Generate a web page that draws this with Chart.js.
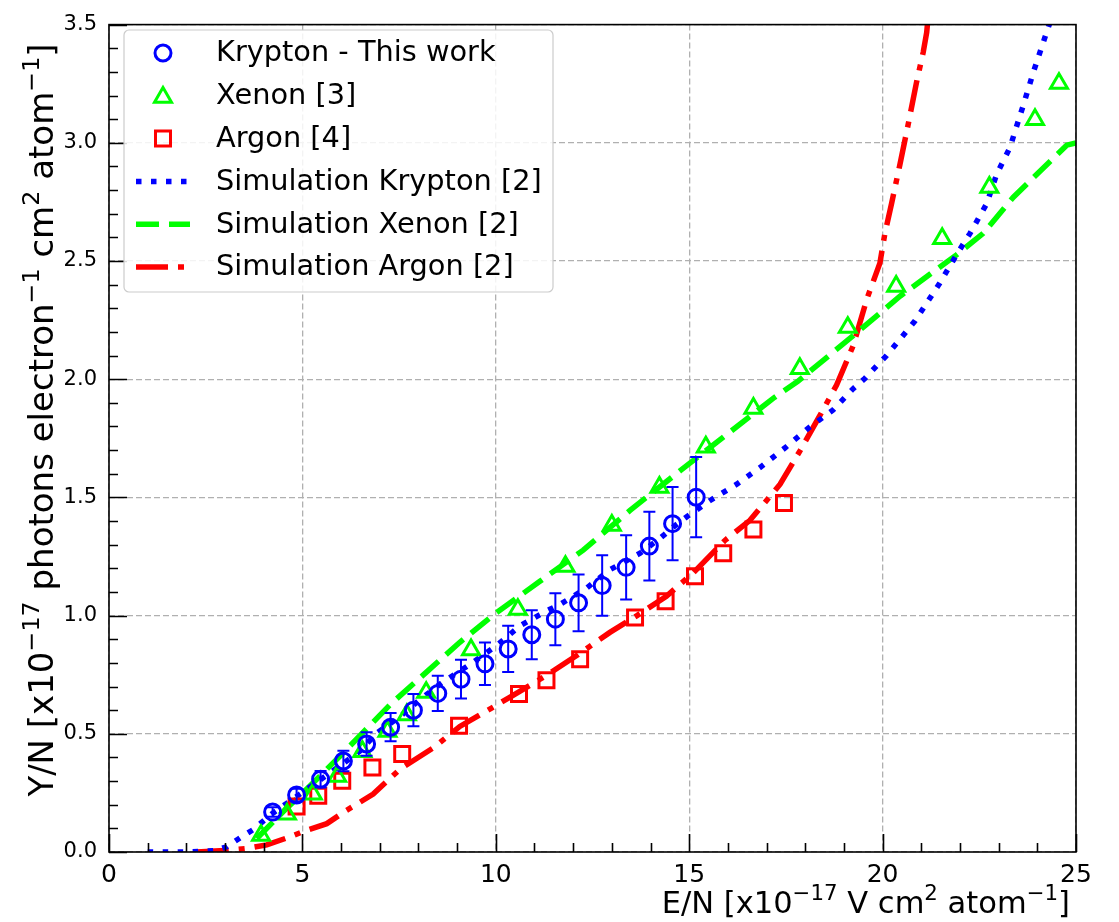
<!DOCTYPE html>
<html>
<head>
<meta charset="utf-8">
<script src="https://cdn.jsdelivr.net/npm/chart.js@4/dist/chart.umd.min.js"></script>
<style>
  html, body { margin: 0; padding: 0; background: #fff; }
</style>
</head>
<body>
<canvas id="chart" width="1119" height="922"></canvas>
<script>
// Krypton - this work (with error bars)
const krE   = [4.23, 4.85, 5.47, 6.06, 6.66, 7.28, 7.87, 8.50, 9.10, 9.72, 10.32, 10.93, 11.54, 12.14, 12.75, 13.37, 13.97, 14.57, 15.18];
const krY   = [0.169, 0.241, 0.308, 0.385, 0.457, 0.528, 0.600, 0.671, 0.731, 0.796, 0.859, 0.919, 0.985, 1.054, 1.127, 1.204, 1.294, 1.389, 1.501];
const krErr = [0.020, 0.027, 0.035, 0.043, 0.050, 0.060, 0.068, 0.075, 0.082, 0.090, 0.098, 0.104, 0.110, 0.120, 0.128, 0.136, 0.145, 0.155, 0.170];

// Xenon [3]
const xeE = [3.93, 4.60, 5.27, 5.90, 6.55, 7.20, 7.70, 8.20, 9.36, 10.57, 11.80, 13.00, 14.23, 15.43, 16.66, 17.86, 19.10, 20.35, 21.54, 22.76, 23.94, 24.56];
const xeY = [0.070, 0.160, 0.245, 0.320, 0.425, 0.510, 0.580, 0.675, 0.855, 1.026, 1.208, 1.382, 1.543, 1.713, 1.877, 2.045, 2.219, 2.393, 2.595, 2.812, 3.098, 3.251];

// Argon [4]
const arE = [4.85, 5.41, 6.03, 6.81, 7.58, 9.05, 10.60, 11.31, 12.18, 13.60, 14.39, 15.15, 15.88, 16.66, 17.45];
const arY = [0.192, 0.238, 0.301, 0.357, 0.415, 0.534, 0.668, 0.727, 0.815, 0.992, 1.061, 1.166, 1.264, 1.364, 1.476];

// Simulation Krypton [2]
const simKrE = [1.0, 2.0, 2.7, 3.04, 3.39, 3.73, 4.2, 4.85, 5.5, 6.1, 6.49, 6.92, 7.5, 8.04, 8.64, 9.33, 10.02, 10.63, 11.31, 11.66, 12.35, 12.95, 13.73, 14.24, 14.59, 14.93, 15.54, 16.23, 16.83, 17.48, 18.08, 18.72, 19.24, 19.54, 20.1, 20.84, 21.48, 21.91, 22.26, 22.69, 22.95, 23.29, 23.64, 23.9, 24.24, 24.35];
const simKrY = [0.0, 0.0, 0.005, 0.022, 0.06, 0.095, 0.16, 0.235, 0.31, 0.38, 0.427, 0.503, 0.57, 0.645, 0.72, 0.793, 0.873, 0.957, 1.02, 1.047, 1.117, 1.194, 1.264, 1.326, 1.375, 1.417, 1.487, 1.556, 1.626, 1.71, 1.793, 1.87, 1.96, 2.003, 2.1, 2.247, 2.407, 2.526, 2.617, 2.742, 2.867, 2.979, 3.16, 3.3, 3.467, 3.52];

// Simulation Xenon [2]
const simXeE = [3.82, 4.5, 5.2, 6.0, 7.26, 8.2, 9.07, 10.02, 11.14, 12.26, 13.47, 14.76, 15.97, 17.17, 17.8, 19.24, 20.45, 21.91, 22.6, 23.38, 24.76, 25.0];
const simXeY = [0.057, 0.17, 0.28, 0.41, 0.622, 0.76, 0.887, 1.013, 1.145, 1.277, 1.445, 1.612, 1.766, 1.919, 1.99, 2.184, 2.351, 2.526, 2.617, 2.77, 2.99, 3.0];

// Simulation Argon [2]
const simArE = [2.27, 3.13, 3.56, 4.08, 4.68, 5.11, 5.63, 6.14, 6.83, 7.52, 8.38, 9.07, 10.37, 11.31, 12.09, 12.95, 13.64, 14.41, 15.1, 15.93, 16.57, 17.0, 17.35, 17.86, 18.34, 18.81, 19.24, 19.59, 19.93, 20.06, 20.23, 20.45, 20.66, 20.88, 21.05, 21.14, 21.17];
const simArY = [0.0, 0.008, 0.015, 0.03, 0.064, 0.092, 0.12, 0.176, 0.245, 0.35, 0.44, 0.531, 0.655, 0.747, 0.831, 0.929, 0.999, 1.082, 1.18, 1.319, 1.403, 1.487, 1.556, 1.696, 1.835, 1.975, 2.142, 2.338, 2.491, 2.617, 2.742, 2.91, 3.077, 3.258, 3.383, 3.467, 3.52];

const xTicks = [0, 5, 10, 15, 20, 25];
const yTicks = [0.0, 0.5, 1.0, 1.5, 2.0, 2.5, 3.0, 3.5];

// axis titles as [text, superscript?] runs
const xTitle = [['E/N [x10', false], ['\u221217', true], [' V cm', false], ['2', true], [' atom', false], ['\u22121', true], [']', false]];
const yTitle = [['Y/N [x10', false], ['\u221217', true], [' photons electron', false], ['\u22121', true], [' cm', false], ['2', true], [' atom', false], ['\u22121', true], [']', false]];

const toPts = (xs, ys) => xs.map((x, i) => ({ x: x, y: ys[i] }));

const BLUE = '#0000ff', GREEN = '#00ff00', RED = '#ff0000';
const FONT = "'DejaVu Sans', sans-serif";

// matplotlib-like dash patterns
const DOT = [5.5, 9.5];
const DASH = [23, 10];
const DASHDOT = [32, 10, 6, 10];

const legendItems = [
  { label: 'Krypton - This work', kind: 'circle', color: BLUE },
  { label: 'Xenon [3]', kind: 'triangle', color: GREEN },
  { label: 'Argon [4]', kind: 'rect', color: RED },
  { label: 'Simulation Krypton [2]', kind: 'line', color: BLUE, dash: DOT },
  { label: 'Simulation Xenon [2]', kind: 'line', color: GREEN, dash: DASH },
  { label: 'Simulation Argon [2]', kind: 'line', color: RED, dash: DASHDOT }
];

const drawMarker = (ctx, kind, x, y, color) => {
  ctx.save();
  ctx.strokeStyle = color;
  ctx.lineWidth = 3;
  ctx.beginPath();
  if (kind === 'circle') {
    ctx.arc(x, y, 8, 0, Math.PI * 2);
  } else if (kind === 'triangle') {
    const r = 9.8;
    ctx.moveTo(x, y - r * 0.85);
    ctx.lineTo(x - r * 0.866, y + r * 0.65);
    ctx.lineTo(x + r * 0.866, y + r * 0.65);
    ctx.closePath();
  } else {
    ctx.rect(x - 7.5, y - 7.5, 15, 15);
  }
  ctx.stroke();
  ctx.restore();
};

// width of a run list, and drawing it from a start x on a baseline
const richWidth = (ctx, runs, size) => runs.reduce((w, [t, sup]) => {
  ctx.font = (sup ? size * 0.7 : size) + 'px ' + FONT;
  return w + ctx.measureText(t).width;
}, 0);

const drawRich = (ctx, runs, size, x0, base) => {
  let x = x0;
  runs.forEach(([t, sup]) => {
    ctx.font = (sup ? size * 0.7 : size) + 'px ' + FONT;
    ctx.fillText(t, x, sup ? base - size * 0.42 : base);
    x += ctx.measureText(t).width;
  });
};

// Error bars for the krypton points
const errorBars = {
  id: 'errorBars',
  afterDatasetsDraw(chart) {
    const { ctx, scales: { x, y } } = chart;
    ctx.save();
    ctx.strokeStyle = BLUE;
    ctx.lineWidth = 2;
    krE.forEach((e, i) => {
      const px = x.getPixelForValue(e);
      const top = y.getPixelForValue(krY[i] + krErr[i]);
      const bot = y.getPixelForValue(krY[i] - krErr[i]);
      ctx.beginPath();
      ctx.moveTo(px, top); ctx.lineTo(px, bot);
      ctx.moveTo(px - 6, top); ctx.lineTo(px + 6, top);
      ctx.moveTo(px - 6, bot); ctx.lineTo(px + 6, bot);
      ctx.stroke();
    });
    ctx.restore();
  }
};

// Inward ticks, frame, axis titles and legend box
const frameAndLegend = {
  id: 'frameAndLegend',
  afterDraw(chart) {
    const { ctx, chartArea: a, scales: { x, y } } = chart;
    ctx.save();
    ctx.strokeStyle = '#000';
    ctx.lineWidth = 1.6;
    ctx.beginPath();
    for (let v = 0; v <= 25; v++) {
      const px = Math.round(x.getPixelForValue(v)) + 0.5;
      const len = v % 5 === 0 ? 18 : 9;
      ctx.moveTo(px, a.bottom); ctx.lineTo(px, a.bottom - len);
    }
    for (let i = 0; i <= 35; i++) {
      const py = Math.round(y.getPixelForValue(i / 10)) + 0.5;
      const len = i % 5 === 0 ? 18 : 9;
      ctx.moveTo(a.left, py); ctx.lineTo(a.left + len, py);
    }
    ctx.stroke();
    ctx.strokeRect(a.left, a.top, a.right - a.left, a.bottom - a.top);

    // axis titles
    ctx.fillStyle = '#000';
    ctx.textBaseline = 'alphabetic';
    ctx.textAlign = 'left';
    const xs = 30.5;
    drawRich(ctx, xTitle, xs, a.right - 6 - richWidth(ctx, xTitle, xs), 913);
    const ys = 34;
    const yw = richWidth(ctx, yTitle, ys);
    ctx.save();
    ctx.translate(53, 420);
    ctx.rotate(-Math.PI / 2);
    drawRich(ctx, yTitle, ys, -yw / 2, 0);
    ctx.restore();

    // legend
    const bx = 124, by = 30, bw = 429, bh = 262;
    ctx.beginPath();
    ctx.roundRect(bx, by, bw, bh, 5);
    ctx.fillStyle = 'rgba(255,255,255,0.85)';
    ctx.fill();
    ctx.strokeStyle = '#cccccc';
    ctx.lineWidth = 1.2;
    ctx.stroke();

    ctx.font = '28.8px ' + FONT;
    ctx.textBaseline = 'middle';
    ctx.textAlign = 'left';
    legendItems.forEach((it, i) => {
      const cy = 53 + i * 42.8;
      if (it.kind === 'line') {
        ctx.save();
        ctx.strokeStyle = it.color;
        ctx.lineWidth = 5.5;
        ctx.setLineDash(it.dash);
        ctx.beginPath();
        ctx.moveTo(136, cy); ctx.lineTo(190, cy);
        ctx.stroke();
        ctx.restore();
      } else {
        drawMarker(ctx, it.kind, 163, cy, it.color);
      }
      ctx.fillStyle = '#000';
      ctx.fillText(it.label, 216, cy + 1);
    });
    ctx.restore();
  }
};

const markerSet = (color, style, radius) => ({
  showLine: false,
  pointStyle: style,
  pointRadius: radius,
  pointHoverRadius: radius,
  pointBorderColor: color,
  pointBackgroundColor: 'rgba(0,0,0,0)',
  pointBorderWidth: 3,
  borderColor: color
});

const lineSet = (color, dash) => ({
  showLine: true,
  borderColor: color,
  borderWidth: 5.5,
  borderDash: dash,
  borderCapStyle: 'butt',
  pointRadius: 0,
  tension: 0,
  fill: false
});

new Chart(document.getElementById('chart').getContext('2d'), {
  type: 'scatter',
  data: {
    datasets: [
      { label: 'Krypton - This work', data: toPts(krE, krY), order: 1, ...markerSet(BLUE, 'circle', 8) },
      { label: 'Xenon [3]', data: toPts(xeE, xeY), order: 2, ...markerSet(GREEN, 'triangle', 9.8) },
      { label: 'Argon [4]', data: toPts(arE, arY), order: 3, ...markerSet(RED, 'rect', 10.6) },
      { label: 'Simulation Krypton [2]', data: toPts(simKrE, simKrY), order: 4, ...lineSet(BLUE, DOT) },
      { label: 'Simulation Xenon [2]', data: toPts(simXeE, simXeY), order: 5, ...lineSet(GREEN, DASH) },
      { label: 'Simulation Argon [2]', data: toPts(simArE, simArY), order: 6, ...lineSet(RED, DASHDOT) }
    ]
  },
  options: {
    responsive: false,
    animation: false,
    layout: { padding: { top: 16, right: 43, left: 0, bottom: 0 } },
    plugins: { legend: { display: false }, tooltip: { enabled: false } },
    scales: {
      x: {
        type: 'linear',
        min: 0, max: 25,
        afterFit: (s) => { s.height = 70; },
        afterBuildTicks: (s) => { s.ticks = xTicks.map(v => ({ value: v })); },
        ticks: { color: '#000', padding: 8, font: { family: FONT, size: 25 }, callback: (v) => String(v) },
        grid: { color: '#b0b0b0', lineWidth: 1.3, drawTicks: false },
        border: { display: false, dash: [6, 3] }
      },
      y: {
        type: 'linear',
        min: 0, max: 3.5,
        afterFit: (s) => { s.width = 109; },
        afterBuildTicks: (s) => { s.ticks = yTicks.map(v => ({ value: v })); },
        ticks: { color: '#000', padding: 12, font: { family: FONT, size: 21 }, callback: (v) => Number(v).toFixed(1) },
        grid: { color: '#b0b0b0', lineWidth: 1.3, drawTicks: false },
        border: { display: false, dash: [6, 3] }
      }
    }
  },
  plugins: [errorBars, frameAndLegend]
});
</script>
</body>
</html>
